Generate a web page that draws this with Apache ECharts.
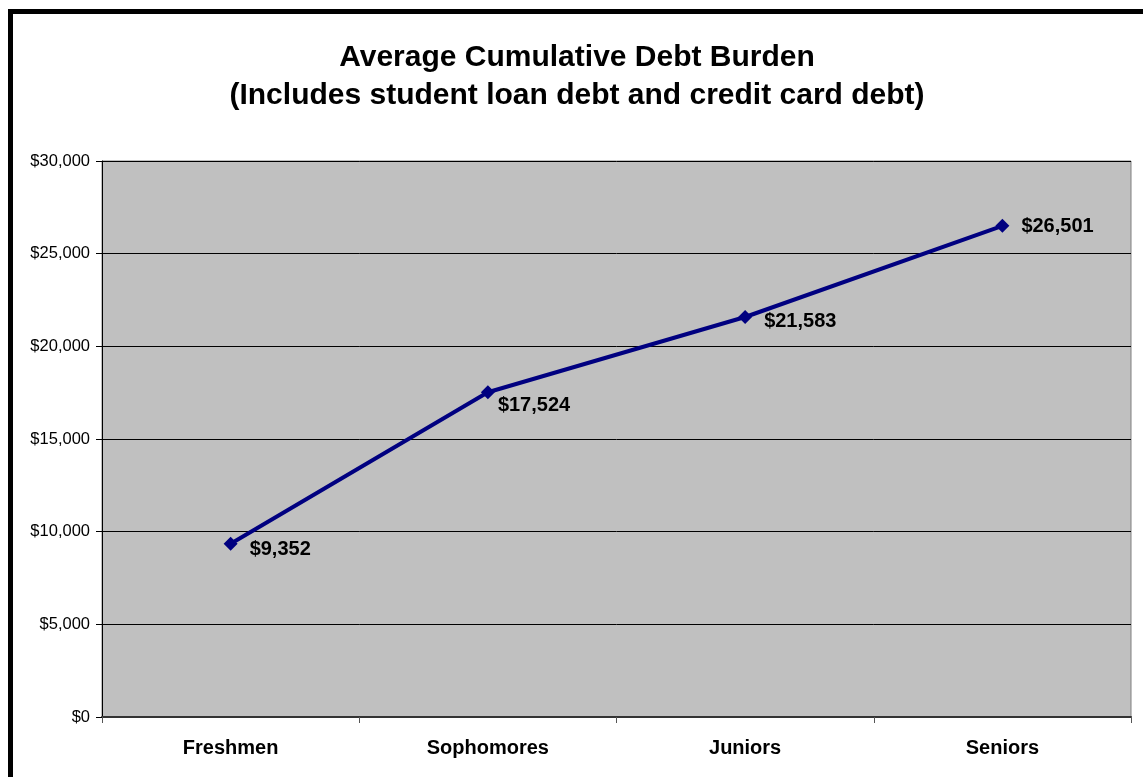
<!DOCTYPE html>
<html>
<head>
<meta charset="utf-8">
<script src="https://cdn.jsdelivr.net/npm/echarts@6/dist/echarts.min.js"></script>
<style>
  html, body { margin: 0; padding: 0; background: #fff; }
  #chart { width: 1143px; height: 777px; }
</style>
</head>
<body>
<div id="chart"></div>
<script>
// Class years on the x axis
const classYears = ['Freshmen', 'Sophomores', 'Juniors', 'Seniors'];
// Average cumulative debt per class year (USD)
const avgDebt = [9352, 17524, 21583, 26501];
// Small nudges [dx, dy] so each value label sits clear of the line
const labelNudge = [[0, 6], [-9, 13], [0, 4], [0, 1]];

const titleLines = [
  'Average Cumulative Debt Burden',
  '(Includes student loan debt and credit card debt)'
];

const FONT = 'Liberation Sans, Arial, Helvetica, sans-serif';
const fmtMoney = v => '$' + Math.round(v).toLocaleString('en-US');

const chart = echarts.init(document.getElementById('chart'), null, { renderer: 'canvas' });

chart.setOption({
  animation: false,
  backgroundColor: '#ffffff',
  title: {
    text: titleLines.join('\n'),
    left: 572,
    textAlign: 'center',
    top: 34,
    textStyle: {
      fontFamily: FONT,
      fontWeight: 'bold',
      fontSize: 30,
      lineHeight: 38,
      color: '#000'
    }
  },
  graphic: [
    {
      // heavy frame around the chart
      type: 'rect',
      shape: { x: 10.5, y: 11.5, width: 1300, height: 1000 },
      style: { fill: 'none', stroke: '#000', lineWidth: 5 },
      silent: true,
      z: 10
    }
  ],
  grid: {
    left: 102,
    right: 12,
    top: 161,
    bottom: 60,
    show: true,
    backgroundColor: '#C0C0C0',
    borderColor: '#808080',
    borderWidth: 1
  },
  xAxis: {
    type: 'category',
    data: classYears,
    boundaryGap: true,
    axisLine: { lineStyle: { color: '#333', width: 2 } },
    axisTick: { show: true, length: 6, lineStyle: { color: '#555' } },
    axisLabel: {
      color: '#000',
      fontFamily: FONT,
      fontWeight: 'bold',
      fontSize: 20,
      margin: 21
    }
  },
  yAxis: {
    type: 'value',
    min: 0,
    max: 30000,
    interval: 5000,
    axisLine: { show: true, lineStyle: { color: '#000', width: 1 } },
    axisTick: { show: true, length: 6, lineStyle: { color: '#000' } },
    splitLine: { show: true, lineStyle: { color: '#000', width: 1 } },
    axisLabel: {
      color: '#000',
      fontFamily: FONT,
      fontSize: 16.5,
      margin: 12,
      formatter: v => fmtMoney(v)
    }
  },
  series: [
    {
      type: 'line',
      data: avgDebt.map((v, i) => ({
        value: v,
        label: { offset: labelNudge[i] }
      })),
      symbol: 'diamond',
      symbolSize: 14,
      lineStyle: { color: '#000080', width: 4 },
      itemStyle: { color: '#000080' },
      label: {
        show: true,
        position: 'right',
        distance: 12,
        color: '#000',
        fontFamily: FONT,
        fontWeight: 'bold',
        fontSize: 20,
        formatter: p => fmtMoney(p.value)
      },
      z: 5
    }
  ]
});
</script>
</body>
</html>
